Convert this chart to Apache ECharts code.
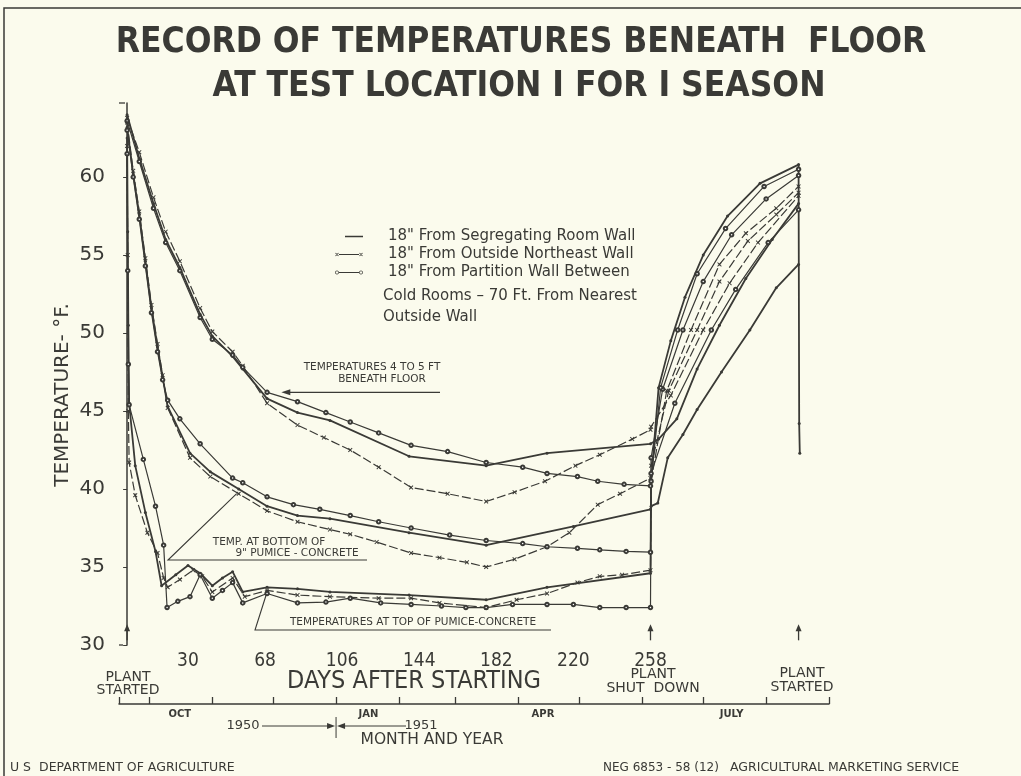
<!DOCTYPE html>
<html>
<head>
<meta charset="utf-8">
<script src="https://cdn.jsdelivr.net/npm/echarts/dist/echarts.min.js"></script>
<style>
  html, body { margin: 0; padding: 0; background: #fbfbed; }
  #chart { width: 1021px; height: 776px; }
</style>
</head>
<body>
<div id="chart"></div>
<script>
// ticks and labels
const dayTicks = [30, 68, 106, 144, 182, 220, 258]
const tempTicks = [30, 35, 40, 45, 50, 55, 60]
const monthStarts = [-4, 11, 42, 72, 103, 134, 162, 193, 223, 254, 284, 315, 346]
const monthMids = [26, 119, 205, 298]
const monthNames = ['OCT', 'JAN', 'APR', 'JULY']

// [day, temp F] - 4 to 5 ft beneath floor
const upperSolid = [[0, 64.0], [6, 61.2], [13, 58.3], [19, 56.0], [26, 54.2], [36, 51.2], [42, 49.8], [52, 48.5], [57, 47.7], [69, 45.8], [84, 44.9], [100, 44.4], [139, 42.1], [177, 41.5], [207, 42.3], [258, 42.9], [262, 43.2], [271, 44.5], [281, 47.7], [292, 50.5], [305, 53.5], [318, 56.0], [331, 58.3]]
const upperX = [[0, 63.8], [6, 61.6], [13, 58.7], [19, 56.5], [26, 54.6], [36, 51.6], [42, 50.1], [52, 48.8], [57, 47.9], [69, 45.5], [84, 44.1], [97, 43.3], [110, 42.5], [124, 41.4], [140, 40.1], [158, 39.7], [177, 39.2], [191, 39.8], [206, 40.5], [221, 41.5], [233, 42.2], [249, 43.2], [258, 43.8], [258.3, 44.0], [268, 46.0], [284, 50.2], [297, 53.2], [311, 55.8], [331, 58.8]]
const upperO = [[0, 63.6], [6, 61.0], [13, 58.0], [19, 55.8], [26, 54.0], [36, 51.0], [42, 49.6], [52, 48.6], [57, 47.8], [69, 46.2], [84, 45.6], [98, 44.9], [110, 44.3], [124, 43.6], [140, 42.8], [158, 42.4], [177, 41.7], [195, 41.4], [207, 41.0], [222, 40.8], [232, 40.5], [245, 40.3], [258, 40.2], [258.3, 42.0], [264, 46.4], [274, 50.2], [284, 53.3], [298, 56.3], [315, 58.6], [331, 60.1]]

// bottom of 9" pumice-concrete
const midSolid = [[0, 63.2], [3, 60.2], [6, 57.6], [9, 54.6], [12, 51.6], [15, 49.1], [17.5, 47.2], [20, 45.3], [31, 42.3], [41, 41.1], [55, 40.0], [69, 38.9], [84, 38.3], [100, 38.1], [139, 37.2], [177, 36.4], [220, 37.6], [258, 38.7], [258.3, 38.9], [261.6, 39.1], [266.5, 42.0], [274, 43.5], [281, 45.1], [293, 47.5], [307, 50.2], [320, 52.9], [331, 54.4]]
const midX = [[0, 63.5], [3, 60.4], [6, 57.8], [9, 54.8], [12, 51.8], [15, 49.3], [17.5, 47.3], [20, 45.2], [31, 42.0], [41, 40.8], [55, 39.7], [69, 38.6], [84, 37.9], [100, 37.4], [110, 37.1], [123, 36.6], [140, 35.9], [154, 35.6], [167.5, 35.3], [177, 35.0], [191, 35.5], [207, 36.3], [218, 37.2], [232, 39.0], [243, 39.7], [258, 40.7], [258.3, 41.5], [267, 46.3], [281, 50.2], [292, 53.3], [306, 55.9], [320, 57.6], [331, 59.0]]
const midO = [[0, 63.0], [3, 60.0], [6, 57.3], [9, 54.3], [12, 51.3], [15, 48.8], [17.5, 47.0], [20, 45.7], [26, 44.5], [36, 42.9], [52, 40.7], [57, 40.4], [69, 39.5], [82, 39.0], [95, 38.7], [110, 38.3], [124, 37.9], [140, 37.5], [159, 37.05], [177, 36.7], [195, 36.5], [207, 36.3], [222, 36.2], [233, 36.1], [246, 36.0], [258, 35.95], [258.3, 41.0], [270, 45.5], [288, 50.2], [300, 52.8], [316, 55.8], [331, 57.9]]

// top of pumice-concrete
const topSolid = [[0, 62.5], [0.3, 56.5], [0.6, 50.5], [1, 45.5], [4, 41.5], [9, 38.5], [14, 36.0], [17, 33.8], [24, 34.5], [30, 35.1], [36, 34.6], [42, 33.8], [47, 34.3], [52, 34.7], [57, 33.4], [69, 33.7], [84, 33.6], [100, 33.4], [139, 33.2], [177, 32.9], [207, 33.7], [258, 34.6], [258.3, 40.5], [262, 46.5], [268, 49.5], [275, 52.3], [284, 55.0], [296, 57.5], [312, 59.6], [331, 60.8], [331.3, 44.2], [331.6, 42.3]]
const topX = [[0, 62.0], [0.3, 55.0], [0.6, 45.0], [1, 41.7], [4, 39.6], [10, 37.2], [15, 35.9], [18, 34.3], [20, 33.7], [26, 34.2], [32.5, 34.8], [37, 34.4], [42, 33.4], [52, 34.3], [58, 33.1], [69, 33.5], [84, 33.2], [100, 33.1], [124, 33.0], [140, 33.0], [154, 32.7], [177, 32.4], [192, 32.9], [207, 33.3], [222, 34.0], [233, 34.4], [244, 34.5], [258, 34.8], [258.3, 40.5], [266, 46.3], [278, 50.2], [292, 54.4], [305, 56.4], [320, 58.0], [331, 59.4]]
const topO = [[0, 61.5], [0.3, 54.0], [0.6, 48.0], [1, 45.4], [8, 41.9], [14, 38.9], [18, 36.4], [19.7, 32.4], [25, 32.8], [31, 33.1], [36, 34.5], [42, 33.0], [47, 33.5], [52, 34.0], [57, 32.7], [69, 33.3], [84, 32.7], [98, 32.75], [110, 33.0], [125, 32.7], [140, 32.6], [155, 32.5], [167, 32.4], [177, 32.4], [190, 32.6], [207, 32.6], [220, 32.6], [233, 32.4], [246, 32.4], [258, 32.4], [258.3, 40.5], [263, 46.5], [271.4, 50.2], [281, 53.8], [295, 56.7], [314, 59.4], [331, 60.5]]

const ink = '#3a3a36'
const nameS = '18" From Segregating Room Wall'
const nameX = '18" From Outside Northeast Wall'
const nameO = '18" From Partition Wall Between'
const xSym = 'path://M0,1.5L1.5,0L5,3.5L8.5,0L10,1.5L6.5,5L10,8.5L8.5,10L5,6.5L1.5,10L0,8.5L3.5,5Z'

function xAt(cx, cy, r, w) {
  return 'M' + (cx - r) + ',' + (cy - r + w) + 'L' + (cx - r + w) + ',' + (cy - r) + 'L' + (cx + r) + ',' + (cy + r - w) + 'L' + (cx + r - w) + ',' + (cy + r) + 'Z' +
    'M' + (cx + r - w) + ',' + (cy - r) + 'L' + (cx + r) + ',' + (cy - r + w) + 'L' + (cx - r + w) + ',' + (cy + r) + 'L' + (cx - r) + ',' + (cy + r - w) + 'Z'
}
function ringAt(cx, cy, r, ri) {
  return 'M' + (cx - r) + ',' + cy + 'a' + r + ',' + r + ' 0 1,1 ' + (2 * r) + ',0a' + r + ',' + r + ' 0 1,1 ' + (-2 * r) + ',0Z' +
    'M' + (cx - ri) + ',' + cy + 'a' + ri + ',' + ri + ' 0 1,0 ' + (2 * ri) + ',0a' + ri + ',' + ri + ' 0 1,0 ' + (-2 * ri) + ',0Z'
}
const specks = 'M0,0h0.05v0.05h-0.05ZM47.95,9.95h0.05v0.05h-0.05Z'
const iconS = 'path://' + specks + 'M10,4.3H28V5.7H10Z'
const iconX = 'path://' + specks + xAt(2, 5, 1.8, 0.6) + 'M4,4.55H24V5.45H4Z' + xAt(26, 5, 1.8, 0.6)
const iconO = 'path://' + specks + ringAt(2, 5, 1.9, 1.2) + 'M4,4.6H24V5.4H4Z' + ringAt(26, 5, 1.9, 1.2)

function line(name, data, kind) {
  const s = {
    type: 'line', name: name, data: data, animation: false, silent: true,
    itemStyle: { color: ink }, lineStyle: { color: ink, width: 1.5 }
  }
  if (kind === 'S') { s.symbol = 'circle'; s.symbolSize = 3; s.lineStyle.width = 1.8 }
  if (kind === 'X') { s.symbol = xSym; s.symbolSize = 4.5; s.lineStyle.width = 1.2; s.lineStyle.type = [9, 3] }
  if (kind === 'O') { s.symbol = 'emptyCircle'; s.symbolSize = 3.5; s.lineStyle.width = 1.2; s.itemStyle.borderWidth = 1 }
  return s
}

const font = 'DejaVu Sans'
const cond = 'DejaVu Sans Condensed'

const chart = echarts.init(document.getElementById('chart'))
chart.setOption({
  backgroundColor: '#fbfbed',
  textStyle: { fontFamily: font, color: ink },
  grid: { left: 119, right: 192, top: 103, bottom: 131, outerBoundsMode: 'none' },
  legend: {
    left: 330, top: 224, orient: 'vertical', itemGap: 3,
    itemWidth: 48, itemHeight: 10, symbolKeepAspect: false, selectedMode: false,
    textStyle: { fontFamily: font, fontSize: 15, color: ink },
    data: [{ name: nameS, icon: iconS }, { name: nameX, icon: iconX }, { name: nameO, icon: iconO }]
  },
  xAxis: [{
    type: 'value', min: -4, max: 346,
    axisLine: { show: false }, axisTick: { show: false }, splitLine: { show: false },
    axisLabel: { customValues: dayTicks, fontFamily: cond, fontSize: 19, color: ink, margin: 7 }
  }, {
    type: 'value', min: -4, max: 346, position: 'bottom', offset: 59,
    axisLine: { show: true, lineStyle: { color: ink, width: 1.5 } },
    axisTick: { show: true, inside: true, length: 7, customValues: monthStarts, lineStyle: { color: ink, width: 1.3 } },
    axisLabel: {
      customValues: monthMids, fontSize: 10, fontWeight: 'bold', color: ink, margin: 5,
      formatter: v => monthNames[monthMids.indexOf(v)]
    },
    splitLine: { show: false }
  }],
  yAxis: {
    type: 'value', min: 30, max: 64.75,
    axisLine: { show: true, lineStyle: { color: ink, width: 1.5 } },
    axisTick: { show: true, customValues: tempTicks, length: 4, lineStyle: { color: ink } },
    axisLabel: { customValues: tempTicks, fontFamily: font, fontSize: 20, color: ink, margin: 14 },
    splitLine: { show: false }
  },
  series: [
    line(nameS, upperSolid, 'S'), line(nameX, upperX, 'X'), line(nameO, upperO, 'O'),
    line(nameS, midSolid, 'S'), line(nameX, midX, 'X'), line(nameO, midO, 'O'),
    line(nameS, topSolid, 'S'), line(nameX, topX, 'X'), line(nameO, topO, 'O')
  ]
})

// annotations
const P = (d, t) => chart.convertToPixel({ xAxisIndex: 0, yAxisIndex: 0 }, [d, t])
function txt(text, x, y, size, extra) {
  return {
    type: 'text', x: x, y: y, silent: true, rotation: (extra && extra.rotation) || 0,
    style: Object.assign({ text: text, x: 0, y: 0, fontSize: size, fontFamily: font, fill: ink, align: 'center', verticalAlign: 'middle' }, extra && extra.style)
  }
}
function seg(pts, w) {
  return { type: 'polyline', silent: true, shape: { points: pts }, style: { stroke: ink, lineWidth: w || 1.2, fill: null } }
}
function tri(pts) {
  return { type: 'polygon', silent: true, shape: { points: pts }, style: { fill: ink } }
}
function upArrow(d) {
  const a = P(d, 30.3), b = P(d, 31.2)
  return [seg([[a[0], a[1]], [a[0], b[1] + 3]], 1.3), tri([[a[0] - 3, b[1] + 5], [a[0], b[1] - 2], [a[0] + 3, b[1] + 5]])]
}

const g = []
// frame
g.push(seg([[4, 776], [4, 8], [1021, 8]], 1.5))
// title
g.push(txt('RECORD OF TEMPERATURES BENEATH  FLOOR', 521, 43, 35, { style: { fontFamily: cond, fontWeight: 'bold' } }))
g.push(txt('AT TEST LOCATION I FOR I SEASON', 519, 87, 35, { style: { fontFamily: cond, fontWeight: 'bold' } }))
// y name
g.push(txt('TEMPERATURE- \u00B0F.', 63, 395, 20, { rotation: Math.PI / 2 }))
// y axis ends
g.push(seg([[119, 103], [125, 103]], 1.3))
g.push(seg([[119, 645], [123, 645]], 1.3))
// legend continuation
g.push(txt('Cold Rooms \u2013 70 Ft. From Nearest', 383, 296, 15, { style: { align: 'left' } }))
g.push(txt('Outside Wall', 383, 317, 15, { style: { align: 'left' } }))

// 4 to 5 ft label
const t1 = P(76, 46.2)
g.push(txt('TEMPERATURES 4 TO 5 FT', 372, 367, 10.5))
g.push(txt('BENEATH FLOOR', 382, 379, 10.5))
g.push(seg([[t1[0] + 6, t1[1]], [440, t1[1]]], 1.1))
g.push(tri([[t1[0], t1[1]], [t1[0] + 9, t1[1] - 3], [t1[0] + 9, t1[1] + 3]]))

// bottom of concrete label
const t2 = P(54, 39.7)
g.push(txt('TEMP. AT BOTTOM OF', 269, 542, 10.5))
g.push(txt('9" PUMICE - CONCRETE', 297, 553, 10.5))
g.push(seg([[t2[0], t2[1]], [168, 560], [367, 560]], 1.1))

// top of concrete label
const t3 = P(69, 33.4)
g.push(txt('TEMPERATURES AT TOP OF PUMICE-CONCRETE', 413, 622, 10.5))
g.push(seg([[t3[0], t3[1]], [255, 630], [551, 630]], 1.1))

// event arrows
upArrow(0).forEach(e => g.push(e))
upArrow(258).forEach(e => g.push(e))
upArrow(331).forEach(e => g.push(e))

// day axis texts
g.push(txt('PLANT', 128, 677, 14))
g.push(txt('STARTED', 128, 690, 14))
g.push(txt('PLANT', 653, 674, 14))
g.push(txt('SHUT  DOWN', 653, 688, 14))
g.push(txt('PLANT', 802, 673, 14))
g.push(txt('STARTED', 802, 687, 14))
g.push(txt('DAYS AFTER STARTING', 414, 681, 25, { style: { fontFamily: cond } }))

// year marker
const jan = P(103, 30)[0]
g.push(txt('1950', 243, 726, 13))
g.push(seg([[262, 726], [jan - 6, 726]], 1))
g.push(tri([[jan - 1, 726], [jan - 9, 723], [jan - 9, 729]]))
g.push(seg([[jan, 717], [jan, 738]], 1))
g.push(seg([[jan + 6, 726], [406, 726]], 1))
g.push(tri([[jan + 1, 726], [jan + 9, 723], [jan + 9, 729]]))
g.push(txt('1951', 421, 726, 13))
g.push(txt('MONTH AND YEAR', 432, 740, 15.5))

// footer
g.push(txt('U S  DEPARTMENT OF AGRICULTURE', 10, 768, 12.5, { style: { align: 'left' } }))
g.push(txt('NEG 6853 - 58 (12)', 603, 768, 12, { style: { align: 'left' } }))
g.push(txt('AGRICULTURAL MARKETING SERVICE', 730, 768, 12.5, { style: { align: 'left' } }))

chart.setOption({ graphic: g })
</script>
</body>
</html>
